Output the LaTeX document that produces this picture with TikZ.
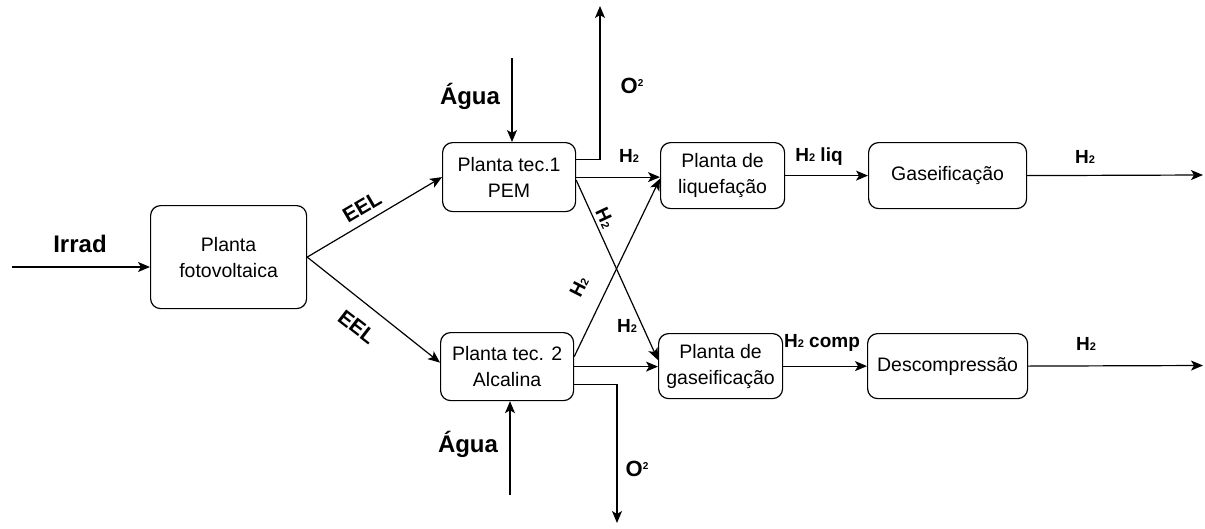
\documentclass[tikz,border=0pt]{standalone}
\usepackage{fontspec}
\setmainfont{Liberation Sans}
\usetikzlibrary{arrows.meta,calc}
\newcommand{\hsub}[1]{{\fontsize{11}{11}\selectfont #1}}
\newcommand{\osup}[1]{\raisebox{7pt}{\fontsize{10}{10}\selectfont #1}}
\tikzset{
  blk/.style={draw, line width=1.2pt, rounded corners=10pt, anchor=north west, inner sep=0pt,
    align=center, font=\fontsize{19.5}{26}\selectfont},
  arr/.style={line width=1.2pt, -{Stealth[length=12pt,width=10pt,inset=3pt]}},
  lbl/.style={font=\fontsize{19}{22}\selectfont\bfseries, inner sep=0pt},
  olbl/.style={font=\fontsize{22}{24}\selectfont\bfseries, inner sep=0pt},
  biglbl/.style={font=\fontsize{24}{26}\selectfont\bfseries, inner sep=0pt},
  eellbl/.style={font=\fontsize{21}{24}\selectfont\bfseries, inner sep=0pt},
}
\begin{document}
\begin{tikzpicture}[x=1pt,y=-1pt]
\useasboundingbox (0,0) rectangle (1205,528);
% boxes
\node[blk, minimum width=156pt, minimum height=103pt] (pv) at (150,205) {Planta\\fotovoltaica};
\node[blk, minimum width=133pt, minimum height=69pt] (t1) at (442,142) {Planta tec.1\\PEM};
\node[blk, minimum width=133pt, minimum height=68pt] (t2) at (440,332) {Planta tec. 2\\Alcalina};
\node[blk, minimum width=124pt, minimum height=66pt] (liq) at (660,142) {Planta de\\liquefação};
\node[blk, minimum width=158pt, minimum height=66pt] (gas) at (868,142) {Gaseificação};
\node[blk, minimum width=124pt, minimum height=65pt] (gsf) at (658,333) {Planta de\\gaseificação};
\node[blk, minimum width=160pt, minimum height=65pt] (dec) at (867,333) {Descompressão};
% free ends
\coordinate (irr) at (12,267);
\coordinate (aguat) at (512,58);
\coordinate (aguab) at (510,495);
\coordinate (o2t) at (600,6);
\coordinate (o2b) at (617,523);
\coordinate (outa) at (1203,175);
\coordinate (outb) at (1203,365.5);
% connectors
\draw[arr] (irr) -- (irr -| pv.west);
\draw[arr] (pv.east) -- (t1.west);
\draw[arr] (pv.east) -- ([yshift=4pt]t2.west);
\draw[arr] (aguat) -- (aguat |- t1.north);
\draw[arr] (aguab) -- (aguab |- t2.south);
\draw[arr] ([yshift=18pt]t1.east) -| (o2t);
\draw[arr] ([yshift=-18pt]t2.east) -| (o2b);
\draw[arr] (t1.east) -- (t1.east -| liq.west);
\draw[arr] ([yshift=-3pt]t1.east) -- ([yshift=6pt]gsf.west);
\draw[arr] ([yshift=10pt]t2.east) -- ([yshift=-3pt]liq.west);
\draw[arr] (t2.east) -- (t2.east -| gsf.west);
\draw[arr] (liq.east) -- (gas.west);
\draw[arr] (gas.east) -- (outa);
\draw[arr] (gsf.east) -- (dec.west);
\draw[arr] (dec.east) -- (outb);
% labels
\node[biglbl] (lirr) at (80,244) {Irrad};
\node[eellbl, rotate=30.5] (leel1) at (362,207) {EEL};
\node[eellbl, rotate=-37.7] (leel2) at (357,327) {EEL};
\node[biglbl] (lagt) at (470,96) {Água};
\node[biglbl] (lagb) at (468,444) {Água};
\node[olbl] (lo2t) at (632,86) {O\osup{2}};
\node[olbl] (lo2b) at (637,469) {O\osup{2}};
\node[lbl] (lh1) at (629,156) {H\hsub{2}};
\node[lbl, rotate=-65] (lh2) at (605,218) {H\hsub{2}};
\node[lbl, rotate=63] (lh3) at (579,287) {H\hsub{2}};
\node[lbl] (lh4) at (627,326) {H\hsub{2}};
\node[lbl] (lliq) at (819,157) {H\hsub{2} liq};
\node[lbl] (lcomp) at (822,343) {H\hsub{2} comp};
\node[lbl] (lout1) at (1085,157) {H\hsub{2}};
\node[lbl] (lout2) at (1086,344) {H\hsub{2}};
\end{tikzpicture}
\end{document}
